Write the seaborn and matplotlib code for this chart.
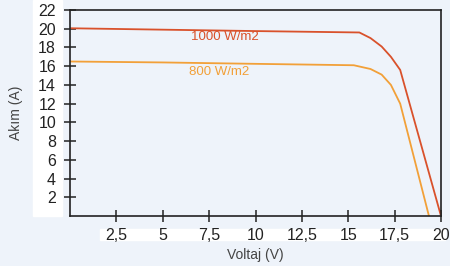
import matplotlib
matplotlib.use("Agg")
import matplotlib.pyplot as plt
import seaborn as sns
import pandas as pd
from matplotlib.patches import Rectangle

# I-V curves
v_1000 = [0, 5, 10, 15.6, 16.2, 16.8, 17.3, 17.8, 20.0]
i_1000 = [20.05, 19.9, 19.75, 19.6, 19.0, 18.1, 17.0, 15.6, 0]
v_800 = [0, 5, 10, 15.3, 16.2, 16.8, 17.3, 17.8, 19.35]
i_800 = [16.5, 16.4, 16.25, 16.1, 15.7, 15.1, 14.0, 12.0, 0]
x_ticks = [2.5, 5, 7.5, 10, 12.5, 15, 17.5, 20]
x_labels = ["2,5", "5", "7,5", "10", "12,5", "15", "17,5", "20"]
y_ticks = [2, 4, 6, 8, 10, 12, 14, 16, 18, 20, 22]

red = "#d9512b"
orange = "#f2a038"
bg = "#eef3fa"

df = pd.concat([
    pd.DataFrame({"V": v_1000, "I": i_1000, "s": "1000 W/m2"}),
    pd.DataFrame({"V": v_800, "I": i_800, "s": "800 W/m2"}),
])

sns.set_style("white")
plt.rcParams["font.family"] = ["Liberation Sans", "DejaVu Sans"]
fig = plt.figure(figsize=(4.5, 2.66), dpi=100, facecolor=bg)
# white strips behind the tick labels
fig.patches.append(Rectangle((33 / 450, 1 - 216 / 266), 29 / 450, 216 / 266,
                             transform=fig.transFigure, color="white", zorder=-5))
fig.patches.append(Rectangle((100 / 450, 1 - 240 / 266), 345 / 450, 11 / 266,
                             transform=fig.transFigure, color="white", zorder=-5))
ax = fig.add_axes([70 / 450, 1 - 216 / 266, 371 / 450, 206 / 266])
ax.set_zorder(2)
ax.set_facecolor(bg)

sns.lineplot(data=df, x="V", y="I", hue="s", palette=[red, orange],
             sort=False, linewidth=1.3, legend=False, ax=ax)

ax.set_xlim(0, 20)
ax.set_ylim(0, 22)
ax.set_xticks(x_ticks)
ax.set_xticklabels(x_labels)
ax.set_yticks(y_ticks)
ax.tick_params(bottom=True, left=True, direction="inout", length=8, width=1.1,
               color="#222222", labelsize=11.5, labelcolor="#222222")
ax.tick_params(axis="x", pad=5)
ax.tick_params(axis="y", pad=6)
for s in ax.spines.values():
    s.set_color("#222222")
    s.set_linewidth(1.2)

ax.set_xlabel("Voltaj (V)", fontsize=10, color="#444444", labelpad=3)
ax.set_ylabel("Akım (A)", fontsize=10, color="#444444", labelpad=11)

ax.text(6.5, 19.1, "1000 W/m2", color=red, fontsize=9.5, ha="left", va="center")
ax.text(6.4, 15.4, "800 W/m2", color=orange, fontsize=9.5, ha="left", va="center")

fig.savefig("out.png", dpi=100, facecolor=bg)
